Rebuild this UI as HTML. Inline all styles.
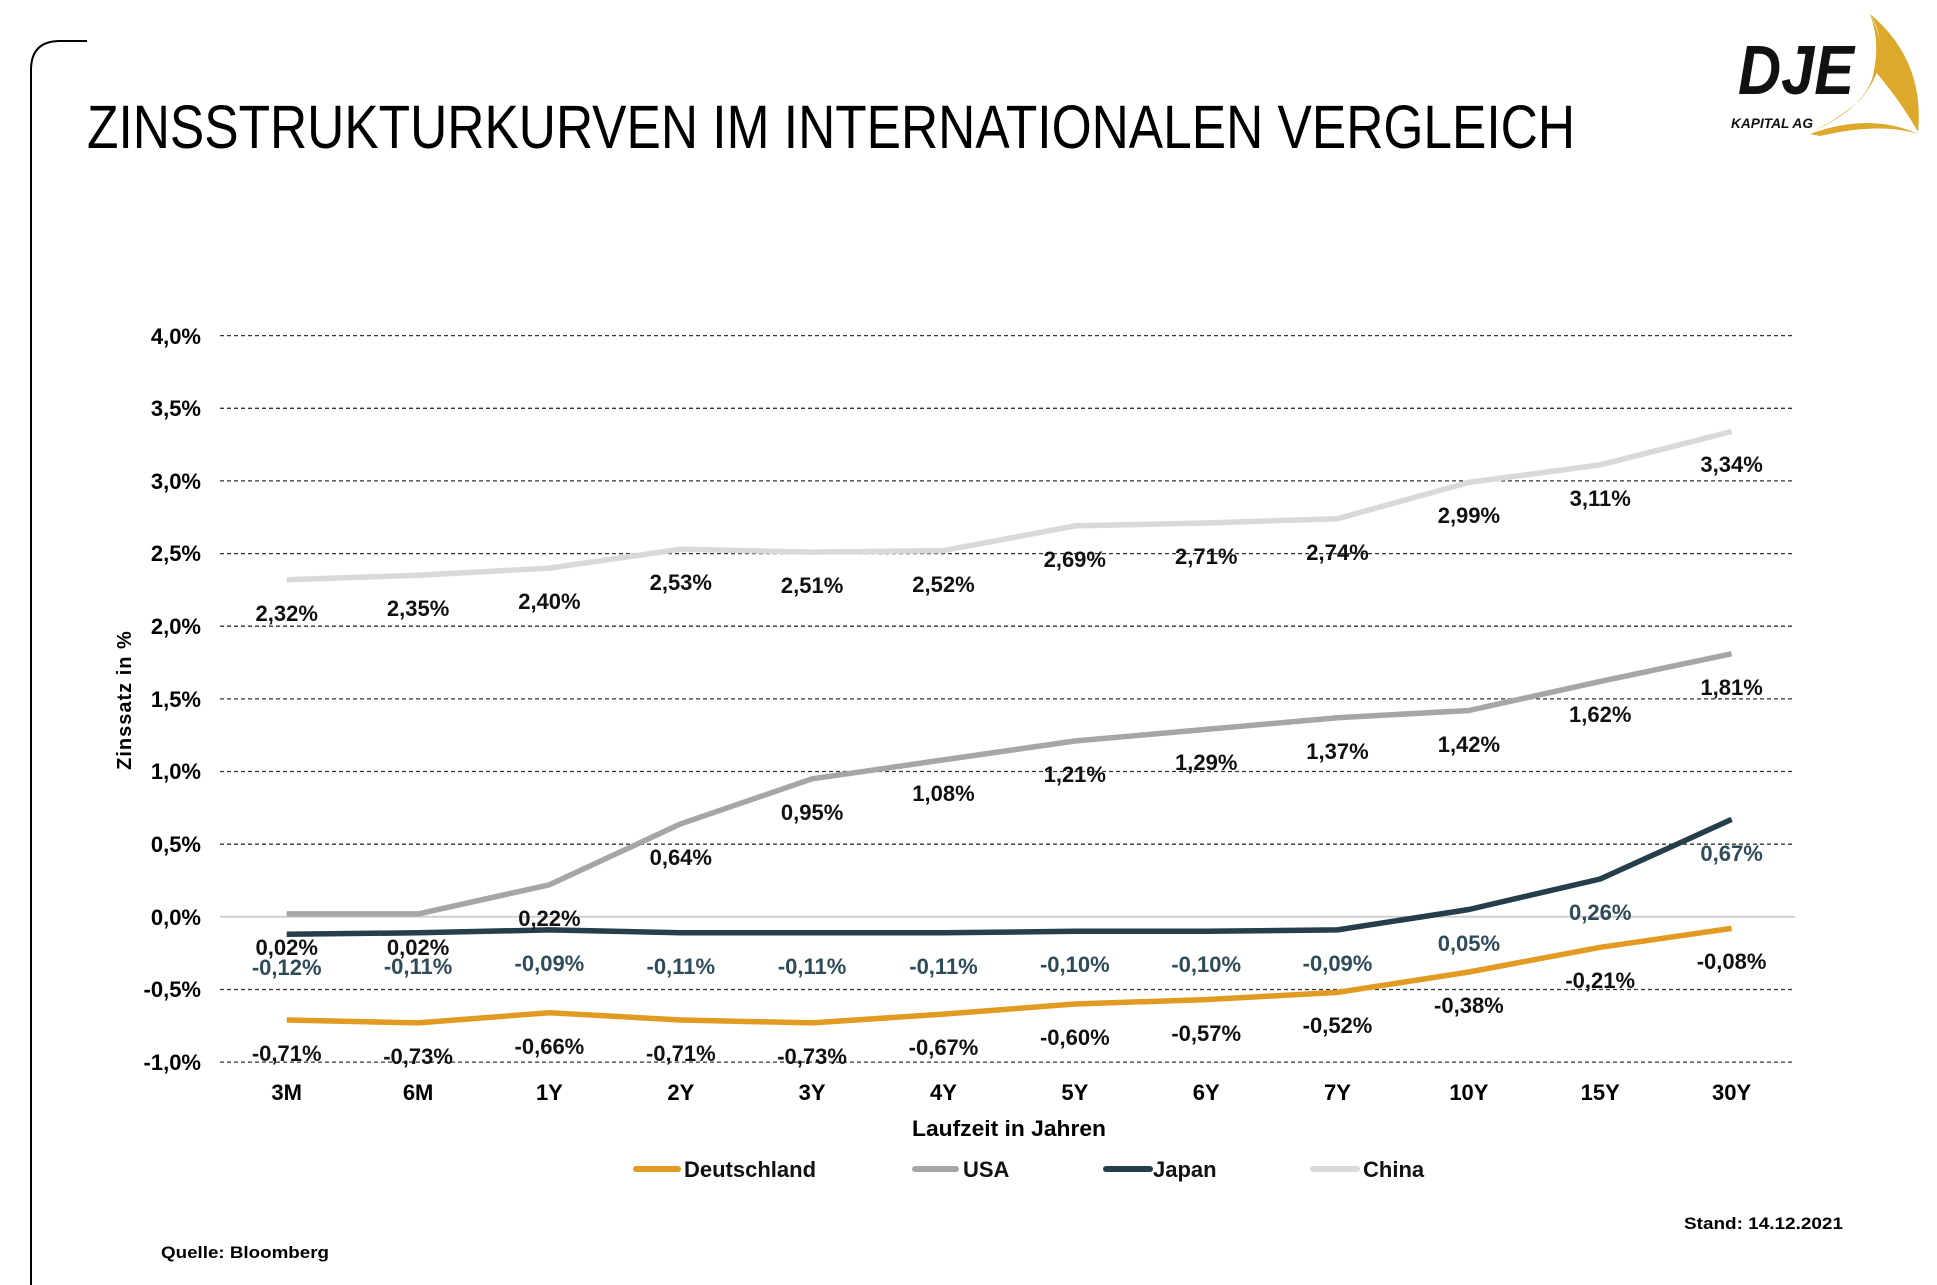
<!DOCTYPE html>
<html><head><meta charset="utf-8"><style>
html,body{margin:0;padding:0;background:#fff;}
svg{display:block;font-family:"Liberation Sans",Arial,sans-serif;}
</style></head><body>
<svg width="1937" height="1285" viewBox="0 0 1937 1285" xmlns="http://www.w3.org/2000/svg">
<rect width="1937" height="1285" fill="#fff"/>
<path d="M31 1285 V70 Q31 41 60 41 H87" fill="none" stroke="#000" stroke-width="2"/>
<text x="87" y="148" font-size="61" textLength="1488" lengthAdjust="spacingAndGlyphs" fill="#000">ZINSSTRUKTURKURVEN IM INTERNATIONALEN VERGLEICH</text>
<!-- logo -->
<path d="M1870 14 Q1925 60 1918 132 Q1900 100 1874 70 Q1887 40 1870 14Z" fill="#DDA92A"/>
<path d="M1870 14 Q1895 60 1860 100 Q1840 118 1812 132 Q1870 105 1874 70 Q1880 40 1870 14Z" fill="#DDA92A"/>
<path d="M1810 134 Q1870 112 1918 134 Q1880 122 1820 136Z" fill="#DDA92A"/>
<text x="1738" y="94" font-size="70" font-weight="bold" font-style="italic" fill="#111" textLength="116" lengthAdjust="spacingAndGlyphs">DJE</text>
<text x="1731" y="128" font-size="14" font-weight="bold" font-style="italic" fill="#111" textLength="82" lengthAdjust="spacingAndGlyphs">KAPITAL AG</text>
<g stroke="#333" stroke-width="1.3" stroke-dasharray="4 3">
<line x1="220" x2="1795" y1="335.6" y2="335.6"/>
<line x1="220" x2="1795" y1="408.3" y2="408.3"/>
<line x1="220" x2="1795" y1="480.9" y2="480.9"/>
<line x1="220" x2="1795" y1="553.6" y2="553.6"/>
<line x1="220" x2="1795" y1="626.2" y2="626.2"/>
<line x1="220" x2="1795" y1="698.9" y2="698.9"/>
<line x1="220" x2="1795" y1="771.5" y2="771.5"/>
<line x1="220" x2="1795" y1="844.2" y2="844.2"/>
<line x1="220" x2="1795" y1="989.5" y2="989.5"/>
<line x1="220" x2="1795" y1="1062.1" y2="1062.1"/>
</g>
<line x1="220" x2="1795" y1="916.8" y2="916.8" stroke="#d0d0d0" stroke-width="2"/>
<g font-size="22" font-weight="bold" text-anchor="end" fill="#000">
<text x="201" y="344">4,0%</text>
<text x="201" y="416">3,5%</text>
<text x="201" y="489">3,0%</text>
<text x="201" y="561">2,5%</text>
<text x="201" y="634">2,0%</text>
<text x="201" y="707">1,5%</text>
<text x="201" y="779">1,0%</text>
<text x="201" y="852">0,5%</text>
<text x="201" y="925">0,0%</text>
<text x="201" y="997">-0,5%</text>
<text x="201" y="1070">-1,0%</text>
</g>
<text transform="translate(131,700) rotate(-90)" font-size="20" font-weight="bold" text-anchor="middle" letter-spacing="1">Zinssatz in %</text>
<g font-size="22" font-weight="bold" text-anchor="middle" fill="#000">
<text x="286.7" y="1100">3M</text><text x="418.1" y="1100">6M</text><text x="549.4" y="1100">1Y</text><text x="680.8" y="1100">2Y</text><text x="812.1" y="1100">3Y</text><text x="943.5" y="1100">4Y</text><text x="1074.8" y="1100">5Y</text><text x="1206.2" y="1100">6Y</text><text x="1337.5" y="1100">7Y</text><text x="1468.9" y="1100">10Y</text><text x="1600.2" y="1100">15Y</text><text x="1731.6" y="1100">30Y</text>
</g>
<text x="1009" y="1136" font-size="22" font-weight="bold" text-anchor="middle" textLength="194" lengthAdjust="spacingAndGlyphs">Laufzeit in Jahren</text>
<g fill="none" stroke-width="5.5" stroke-linejoin="round">
<polyline stroke="#D9D9D9" points="286.7,579.7 418.1,575.3 549.4,568.1 680.8,549.2 812.1,552.1 943.5,550.6 1074.8,525.9 1206.2,523 1337.5,518.7 1468.9,482.4 1600.2,464.9 1731.6,431.5"/>
<polyline stroke="#A6A6A6" points="286.7,913.9 418.1,913.9 549.4,884.8 680.8,823.8 812.1,778.8 943.5,759.9 1074.8,741 1206.2,729.4 1337.5,717.7 1468.9,710.5 1600.2,681.4 1731.6,653.8"/>
<polyline stroke="#263D4A" points="286.7,934.2 418.1,932.8 549.4,929.9 680.8,932.8 812.1,932.8 943.5,932.8 1074.8,931.3 1206.2,931.3 1337.5,929.9 1468.9,909.5 1600.2,879 1731.6,819.4"/>
<polyline stroke="#E29B22" points="286.7,1020 418.1,1022.9 549.4,1012.7 680.8,1020 812.1,1022.9 943.5,1014.1 1074.8,1004 1206.2,999.6 1337.5,992.4 1468.9,972 1600.2,947.3 1731.6,928.4"/>
</g>
<g font-size="22" font-weight="bold" text-anchor="middle" fill="#111">
<text x="286.7" y="621">2,32%</text><text x="418.1" y="616">2,35%</text><text x="549.4" y="609">2,40%</text><text x="680.8" y="590">2,53%</text><text x="812.1" y="593">2,51%</text><text x="943.5" y="592">2,52%</text><text x="1074.8" y="567">2,69%</text><text x="1206.2" y="564">2,71%</text><text x="1337.5" y="560">2,74%</text><text x="1468.9" y="523">2,99%</text><text x="1600.2" y="506">3,11%</text><text x="1731.6" y="472">3,34%</text>
<text x="286.7" y="955">0,02%</text><text x="418.1" y="955">0,02%</text><text x="549.4" y="926">0,22%</text><text x="680.8" y="865">0,64%</text><text x="812.1" y="820">0,95%</text><text x="943.5" y="801">1,08%</text><text x="1074.8" y="782">1,21%</text><text x="1206.2" y="770">1,29%</text><text x="1337.5" y="759">1,37%</text><text x="1468.9" y="752">1,42%</text><text x="1600.2" y="722">1,62%</text><text x="1731.6" y="695">1,81%</text>
<text x="286.7" y="1061">-0,71%</text><text x="418.1" y="1064">-0,73%</text><text x="549.4" y="1054">-0,66%</text><text x="680.8" y="1061">-0,71%</text><text x="812.1" y="1064">-0,73%</text><text x="943.5" y="1055">-0,67%</text><text x="1074.8" y="1045">-0,60%</text><text x="1206.2" y="1041">-0,57%</text><text x="1337.5" y="1033">-0,52%</text><text x="1468.9" y="1013">-0,38%</text><text x="1600.2" y="988">-0,21%</text><text x="1731.6" y="969">-0,08%</text>
</g>
<g font-size="22" font-weight="bold" text-anchor="middle" fill="#2F4B5A">
<text x="286.7" y="975">-0,12%</text><text x="418.1" y="974">-0,11%</text><text x="549.4" y="971">-0,09%</text><text x="680.8" y="974">-0,11%</text><text x="812.1" y="974">-0,11%</text><text x="943.5" y="974">-0,11%</text><text x="1074.8" y="972">-0,10%</text><text x="1206.2" y="972">-0,10%</text><text x="1337.5" y="971">-0,09%</text><text x="1468.9" y="951">0,05%</text><text x="1600.2" y="920">0,26%</text><text x="1731.6" y="861">0,67%</text>
</g>
<g stroke-width="6" stroke-linecap="round">
<line x1="636" x2="678" y1="1169" y2="1169" stroke="#E29B22"/>
<line x1="915" x2="956" y1="1169" y2="1169" stroke="#A6A6A6"/>
<line x1="1106" x2="1150" y1="1169" y2="1169" stroke="#263D4A"/>
<line x1="1313" x2="1357" y1="1169" y2="1169" stroke="#D9D9D9"/>
</g>
<g font-size="22" font-weight="bold" fill="#111">
<text x="684" y="1177">Deutschland</text>
<text x="963" y="1177">USA</text>
<text x="1153" y="1177">Japan</text>
<text x="1363" y="1177">China</text>
</g>
<text x="1843" y="1229" font-size="17" font-weight="bold" text-anchor="end" textLength="159" lengthAdjust="spacingAndGlyphs">Stand: 14.12.2021</text>
<text x="161" y="1258" font-size="17" font-weight="bold" textLength="168" lengthAdjust="spacingAndGlyphs">Quelle: Bloomberg</text>
</svg>
</body></html>
